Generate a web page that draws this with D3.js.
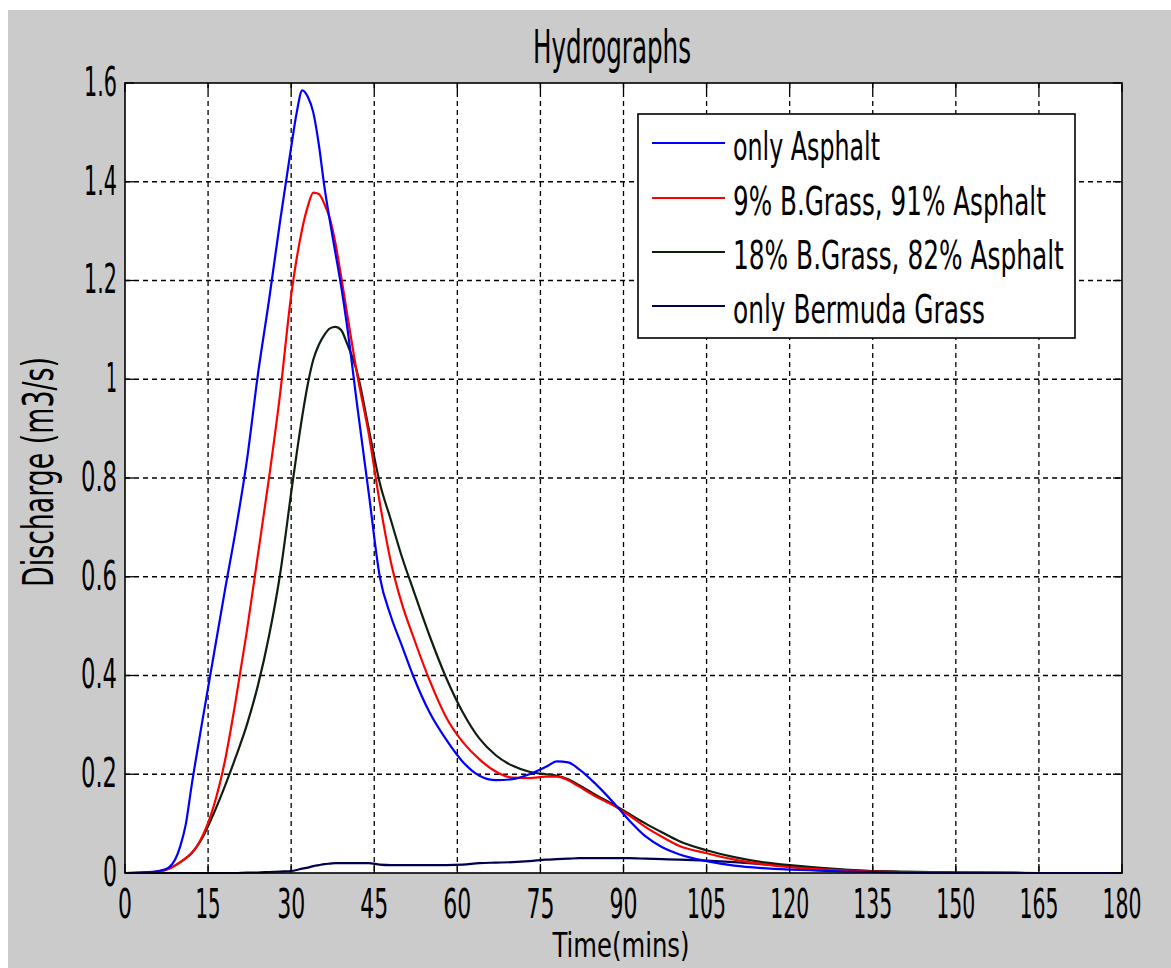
<!DOCTYPE html>
<html><head><meta charset="utf-8">
<script src="https://cdn.jsdelivr.net/npm/d3@7"></script>
<style>
html,body{margin:0;padding:0;background:#fff;}
svg{display:block;}
text{font-family:"Liberation Sans Narrow","DejaVu Sans Condensed","Liberation Sans",sans-serif;fill:#000;}
</style>
</head><body>
<svg id="c" width="1171" height="968"></svg>
<script>
// ---- data ----
const times = [0,3,6,8,10, 11,12,14,16,18, 20,22,24,26,28, 30,31,32,33,34, 35,36,37,38,39,
  40,42,44,46,48, 50,52,55,58,61, 64,67,70,73,76, 78,80,82,85,88, 91,94,97,100,105,
  110,115,120,125,130, 135,140,150,165,180];
const onlyAsphalt = [0,0.001,0.004,0.012,0.055, 0.1,0.175,0.31,0.44,0.57, 0.695,0.835,1.01,1.16,1.32,
  1.47,1.54,1.585,1.572,1.54, 1.475,1.39,1.32,1.255,1.19, 1.115,0.94,0.77,0.6,0.52,
  0.46,0.4,0.325,0.27,0.225, 0.197,0.188,0.19,0.2,0.215, 0.226,0.224,0.21,0.18,0.145,
  0.107,0.074,0.052,0.038,0.024, 0.015,0.01,0.007,0.005,0.003, 0.002,0.001,0,0,0];
const grass9 = [0,0.001,0.003,0.009,0.022, 0.03,0.04,0.075,0.135,0.225, 0.35,0.49,0.645,0.8,0.97,
  1.17,1.245,1.305,1.35,1.378, 1.375,1.355,1.325,1.275,1.21, 1.14,1.005,0.89,0.75,0.63,
  0.545,0.48,0.39,0.315,0.265, 0.23,0.205,0.193,0.192,0.195, 0.195,0.188,0.175,0.155,0.138,
  0.117,0.093,0.073,0.055,0.04, 0.027,0.018,0.012,0.008,0.005, 0.003,0.002,0.001,0,0];
const grass18 = [0,0.001,0.003,0.009,0.022, 0.03,0.04,0.072,0.12,0.175, 0.235,0.3,0.38,0.48,0.605,
  0.77,0.85,0.925,0.99,1.04, 1.07,1.09,1.103,1.106,1.1, 1.075,1.01,0.9,0.79,0.715,
  0.64,0.575,0.48,0.395,0.325, 0.272,0.238,0.217,0.205,0.2, 0.197,0.19,0.178,0.158,0.14,
  0.12,0.1,0.082,0.065,0.046, 0.032,0.022,0.016,0.011,0.007, 0.004,0.003,0.001,0,0];
const onlyBermuda = [0,0,0,0,0, 0,0,0,0,0, 0,0.001,0.001,0.002,0.003,
  0.004,0.006,0.009,0.011,0.014, 0.016,0.018,0.019,0.02,0.02, 0.02,0.02,0.02,0.017,0.016,
  0.016,0.016,0.016,0.016,0.017, 0.02,0.021,0.022,0.024,0.027, 0.028,0.029,0.03,0.03,0.03,
  0.03,0.029,0.028,0.027,0.025, 0.022,0.018,0.014,0.01,0.006, 0.004,0.002,0.001,0,0];
const seriesNames = ["only Asphalt","9% B.Grass, 91% Asphalt","18% B.Grass, 82% Asphalt","only Bermuda Grass"];
const seriesColors = ["#0000ff","#ff0000","#0f1f0f","#000050"];
const xTicks = [0,15,30,45,60,75,90,105,120,135,150,165,180];
const yTicks = [0,0.2,0.4,0.6,0.8,1,1.2,1.4,1.6];
const yTickLabels = ["0","0.2","0.4","0.6","0.8","1","1.2","1.4","1.6"];
const titleText = "Hydrographs";
const xLabel = "Time(mins)";
const yLabel = "Discharge (m3/s)";

// ---- layout ----
const svg = d3.select("#c");
const L = 125, R = 1122, T = 83, B = 873;
const x = d3.scaleLinear().domain([0,180]).range([L,R]);
const y = d3.scaleLinear().domain([0,1.6]).range([B,T]);
const charW = c => c === "1" ? 11 : (c === "." ? 8 : 14);
const labW = s => s.split("").reduce((a,c)=>a+charW(c),0);

// squeeze a text horizontally to a target width (condensed look)
function fitText(node, width, pre){
  const w0 = node.getComputedTextLength();
  const s = w0 > 0 ? width / w0 : 1;
  if (pre) { node.setAttribute("transform", pre + " scale(" + s + ",1)"); return; }
  const x0 = +node.getAttribute("x"), y0 = +node.getAttribute("y");
  node.setAttribute("transform", "translate(" + x0 + "," + y0 + ") scale(" + s + ",1) translate(" + (-x0) + "," + (-y0) + ")");
}

svg.append("rect").attr("x",8).attr("y",10).attr("width",1163).attr("height",958).attr("fill","#cbcbcb");
svg.append("rect").attr("x",L).attr("y",T).attr("width",R-L).attr("height",B-T).attr("fill","#fff");

// grid
const grid = svg.append("g");
grid.selectAll("line.gx").data(xTicks.slice(1,-1)).enter().append("line")
  .attr("x1",d=>x(d)).attr("x2",d=>x(d)).attr("y1",T).attr("y2",B)
  .attr("stroke","#000").attr("stroke-width",1.3).attr("stroke-dasharray","5,4");
grid.selectAll("line.gy").data(yTicks.slice(1,-1)).enter().append("line")
  .attr("y1",d=>y(d)).attr("y2",d=>y(d)).attr("x1",L).attr("x2",R)
  .attr("stroke","#000").attr("stroke-width",1.3).attr("stroke-dasharray","5,4");

// curves
const allSeries = [onlyAsphalt, grass9, grass18, onlyBermuda];
const line = d3.line().x((d,i)=>x(times[i])).y(d=>y(d)).curve(d3.curveMonotoneX);
const drawOrder = [3,2,1,0];
drawOrder.forEach(k=>{
  svg.append("path").datum(allSeries[k]).attr("d",line)
    .attr("fill","none").attr("stroke",seriesColors[k]).attr("stroke-width",2.2)
    .attr("stroke-linejoin","round");
});

// box + inner ticks
svg.append("rect").attr("x",L).attr("y",T).attr("width",R-L).attr("height",B-T)
  .attr("fill","none").attr("stroke","#000").attr("stroke-width",1.6);
const tk = svg.append("g").attr("stroke","#000").attr("stroke-width",1.3);
xTicks.forEach(v=>{
  tk.append("line").attr("x1",x(v)).attr("x2",x(v)).attr("y1",B).attr("y2",B-9);
  tk.append("line").attr("x1",x(v)).attr("x2",x(v)).attr("y1",T).attr("y2",T+9);
});
yTicks.forEach(v=>{
  tk.append("line").attr("y1",y(v)).attr("y2",y(v)).attr("x1",L).attr("x2",L+9);
  tk.append("line").attr("y1",y(v)).attr("y2",y(v)).attr("x1",R).attr("x2",R-9);
});

// tick labels
svg.selectAll("text.xt").data(xTicks).enter().append("text").attr("class","xt")
  .attr("x",d=>x(d)).attr("y",918).attr("text-anchor","middle")
  .attr("font-size",40).text(d=>String(d))
  .each(function(d){ fitText(this, labW(String(d))); });
svg.selectAll("text.yt").data(yTicks).enter().append("text").attr("class","yt")
  .attr("x",117).attr("y",d=>y(d)+13).attr("text-anchor","end")
  .attr("font-size",40).text((d,i)=>yTickLabels[i])
  .each(function(d,i){ fitText(this, labW(yTickLabels[i])); });

// title & axis labels
svg.append("text").attr("x",612).attr("y",63).attr("text-anchor","middle").attr("font-size",46)
  .text(titleText).each(function(){ fitText(this,158); });
svg.append("text").attr("x",621).attr("y",957).attr("text-anchor","middle").attr("font-size",34)
  .text(xLabel).each(function(){ fitText(this,137); });
svg.append("text").attr("text-anchor","middle").attr("font-size",42)
  .text(yLabel).each(function(){ fitText(this,230,"translate(53,472) rotate(-90)"); });

// legend
const lg = svg.append("g");
lg.append("rect").attr("x",638).attr("y",114).attr("width",437).attr("height",224)
  .attr("fill","#fff").attr("stroke","#000").attr("stroke-width",1.6);
const legY = [143,198,252,306];
const legW = [147,313,331,252];
seriesNames.forEach((n,i)=>{
  lg.append("line").attr("x1",652).attr("x2",725).attr("y1",legY[i]).attr("y2",legY[i])
    .attr("stroke",seriesColors[i]).attr("stroke-width",2.2);
  lg.append("text").attr("x",733).attr("y",legY[i]+17).attr("font-size",39)
    .text(n).each(function(){ fitText(this, legW[i]); });
});
</script>
</body></html>
